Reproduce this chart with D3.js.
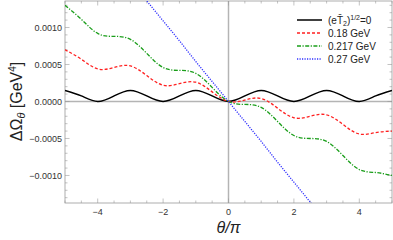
<!DOCTYPE html>
<html>
<head>
<meta charset="utf-8">
<script src="https://cdn.jsdelivr.net/npm/d3@7"></script>
<style>
  body { margin: 0; background: #fff; }
  svg { display: block; font-family: "Liberation Sans", Arial, sans-serif; }
</style>
</head>
<body>
<div id="chart"></div>
<script>
// theta/pi sample positions
const thetaPts = [-5, -4.5, -4, -3.5, -3, -2.5, -2, -1.5, -1, -0.5, 0, 0.5, 1, 1.5, 2, 2.5, 3, 3.5, 4, 4.5, 5];
// values in units of 1e-4 GeV^4
const omegaZero = [1.5, 0.75, 0, 0.75, 1.5, 0.75, 0, 0.75, 1.5, 0.75, 0, 0.75, 1.5, 0.75, 0, 0.75, 1.5, 0.75, 0, 0.75, 1.5];
const omega018 = [7.0, 5.7, 4.4, 4.6, 4.8, 3.5, 2.2, 2.4, 2.6, 1.3, 0, 0.2, 0.4, -0.9, -2.2, -2.0, -1.8, -3.1, -4.4, -4.2, -4.0];
const omega0217 = [13.0, 11.1, 9.2, 8.8, 8.4, 6.5, 4.6, 4.2, 3.8, 1.9, 0, -0.4, -0.8, -2.7, -4.6, -5.0, -5.4, -7.3, -9.2, -9.6, -10.0];
const omega027 = [27.2, 24.5, 21.8, 19.1, 16.3, 13.6, 10.9, 8.2, 5.4, 2.7, 0, -2.7, -5.4, -8.2, -10.9, -13.6, -16.3, -19.1, -21.8, -24.5, -27.2];

const seriesNames = ["zero", "0.18 GeV", "0.217 GeV", "0.27 GeV"];
const xTicks = [-4, -2, 0, 2, 4];
const yTicks = [-0.0010, -0.0005, 0, 0.0005, 0.0010];

const W = 393, H = 240;
const margin = { top: 1, right: 1, bottom: 37, left: 65 };

const svg = d3.select("#chart").append("svg")
    .attr("width", W)
    .attr("height", H);

const x = d3.scaleLinear().domain([-5, 5]).range([margin.left, W - margin.right]);
const y = d3.scaleLinear().domain([-0.001372, 0.001358]).range([H - margin.bottom, margin.top]);

const x0 = margin.left, x1 = W - margin.right, y0 = H - margin.bottom, y1 = margin.top;

svg.append("clipPath").attr("id", "clip")
    .append("rect")
    .attr("x", x0).attr("y", y1)
    .attr("width", x1 - x0).attr("height", y0 - y1);

// zero axis lines
svg.append("line")
    .attr("x1", x(0)).attr("x2", x(0)).attr("y1", y1).attr("y2", y0)
    .attr("stroke", "#b4b4b4").attr("stroke-width", 1.5);
svg.append("line")
    .attr("x1", x0).attr("x2", x1).attr("y1", y(0)).attr("y2", y(0))
    .attr("stroke", "#b4b4b4").attr("stroke-width", 1.5);

// frame ticks
const xMinor = d3.range(-5, 5.01, 0.5);
const yMinor = d3.range(-13, 14, 1).map(d => d * 1e-4);
const frameColor = "#9a9a9a";
const ticks = svg.append("g").attr("stroke", frameColor).attr("stroke-width", 0.6);

xMinor.forEach(v => {
    const major = xTicks.includes(v);
    const len = major ? 4.5 : 2.5;
    ticks.append("line").attr("x1", x(v)).attr("x2", x(v)).attr("y1", y0).attr("y2", y0 - len);
    ticks.append("line").attr("x1", x(v)).attr("x2", x(v)).attr("y1", y1).attr("y2", y1 + len);
});
yMinor.forEach(v => {
    const major = yTicks.some(t => Math.abs(t - v) < 1e-9);
    const len = major ? 4.5 : 2.5;
    ticks.append("line").attr("x1", x0).attr("x2", x0 + len).attr("y1", y(v)).attr("y2", y(v));
    ticks.append("line").attr("x1", x1).attr("x2", x1 - len).attr("y1", y(v)).attr("y2", y(v));
});

svg.append("rect")
    .attr("x", x0).attr("y", y1)
    .attr("width", x1 - x0).attr("height", y0 - y1)
    .attr("fill", "none").attr("stroke", frameColor).attr("stroke-width", 0.8);

// tick labels
svg.append("g").selectAll("text")
    .data(xTicks).enter().append("text")
    .attr("x", d => x(d))
    .attr("y", y0 + 12)
    .attr("text-anchor", "middle")
    .attr("font-size", 9)
    .attr("fill", "#333")
    .text(d => d < 0 ? "\u2212" + Math.abs(d) : d);

svg.append("g").selectAll("text")
    .data(yTicks).enter().append("text")
    .attr("x", x0 - 3)
    .attr("y", d => y(d))
    .attr("dy", "0.35em")
    .attr("text-anchor", "end")
    .attr("font-size", 9)
    .attr("fill", "#333")
    .text(d => (d < 0 ? "\u2212" : "") + Math.abs(d).toFixed(4));

// axis titles
const yLab = svg.append("text")
    .attr("transform", `translate(22,${y(0)}) rotate(-90)`)
    .attr("text-anchor", "middle")
    .attr("font-size", 16)
    .attr("fill", "#222");
yLab.append("tspan").text("\u0394\u03A9");
yLab.append("tspan").attr("font-size", 11).attr("dy", 3).attr("font-style", "italic").text("\u03B8");
yLab.append("tspan").attr("dy", -3).text(" [GeV");
yLab.append("tspan").attr("font-size", 10).attr("dy", -6).text("4");
yLab.append("tspan").attr("dy", 6).text("]");

svg.append("text")
    .attr("x", x(0))
    .attr("y", 233)
    .attr("text-anchor", "middle")
    .attr("font-size", 16)
    .attr("font-style", "italic")
    .attr("fill", "#222")
    .text("\u03B8/\u03C0");

// curves
const styles = [
    { color: "#000000", dash: null, width: 1.5 },
    { color: "#ff2020", dash: "3,2", width: 1.3 },
    { color: "#1a9e1a", dash: "4,1.5,1.2,1.5", width: 1.3 },
    { color: "#3030ff", dash: "1.2,1.3", width: 1.3 }
];
const allSeries = [omegaZero, omega018, omega0217, omega027];

const line = d3.line()
    .x(d => x(d.t))
    .y(d => y(d.v * 1e-4))
    .curve(d3.curveNatural);

const plot = svg.append("g").attr("clip-path", "url(#clip)");
allSeries.forEach((vals, i) => {
    const pts = thetaPts.map((t, j) => ({ t: t, v: vals[j] }));
    plot.append("path")
        .attr("d", line(pts))
        .attr("fill", "none")
        .attr("stroke", styles[i].color)
        .attr("stroke-width", styles[i].width)
        .attr("stroke-dasharray", styles[i].dash);
});

// legend
const legend = svg.append("g").attr("transform", "translate(297,20)");
seriesNames.forEach((name, i) => {
    const g = legend.append("g").attr("transform", `translate(0,${i * 13})`);
    g.append("line")
        .attr("x1", 0).attr("x2", 25).attr("y1", 0).attr("y2", 0)
        .attr("stroke", styles[i].color)
        .attr("stroke-width", styles[i].width)
        .attr("stroke-dasharray", styles[i].dash);
    const t = g.append("text")
        .attr("x", 31).attr("y", 0).attr("dy", "0.35em")
        .attr("font-size", 10).attr("fill", "#222");
    if (i === 0) {
        t.append("tspan").text("(e");
        t.append("tspan").text("T\u0304");
        t.append("tspan").attr("font-size", 7).attr("dy", 2).text("2");
        t.append("tspan").attr("dy", -2).text(")");
        t.append("tspan").attr("font-size", 7).attr("dy", -4).text("1/2");
        t.append("tspan").attr("dy", 4).text("=0");
    } else {
        t.text(name);
    }
});
</script>
</body>
</html>
